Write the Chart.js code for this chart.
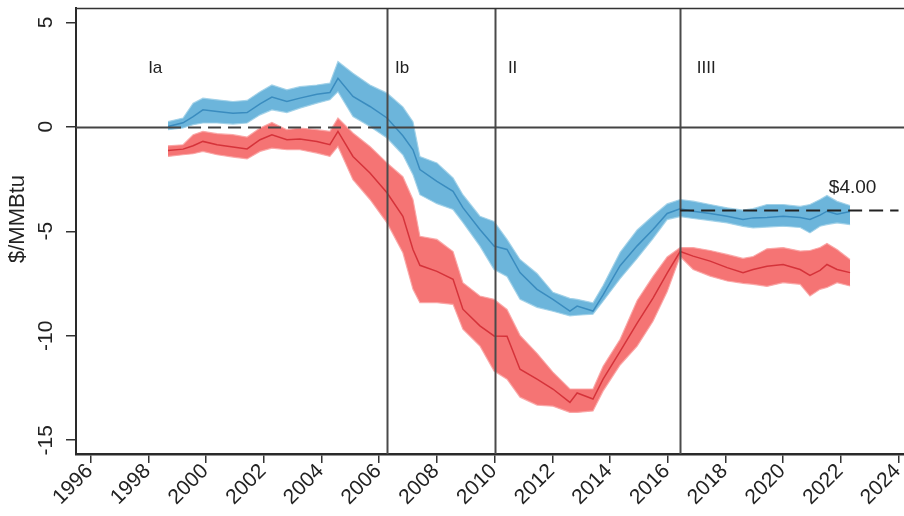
<!DOCTYPE html>
<html>
<head>
<meta charset="utf-8">
<script src="https://cdn.jsdelivr.net/npm/chart.js@4.4.1/dist/chart.umd.min.js"></script>
<style>
  html, body { margin: 0; padding: 0; background: #ffffff; }
  canvas { display: block; }
</style>
</head>
<body>
<canvas id="chart" width="904" height="516"></canvas>
<script>
// Sample dates (decimal years) shared by every series
const years = [1998.68, 1999.20, 1999.55, 1999.89, 2000.38, 2000.93, 2001.42, 2001.87, 2002.28, 2002.80,
  2003.25, 2003.84, 2004.29, 2004.57, 2005.09, 2005.68, 2006.27, 2006.82, 2007.17, 2007.41,
  2008.00, 2008.56, 2008.90, 2009.49, 2009.98, 2010.43, 2010.88, 2011.47, 2012.02, 2012.61,
  2012.86, 2013.41, 2013.76, 2014.35, 2014.94, 2015.49, 2015.98, 2016.43, 2016.88, 2017.47,
  2018.06, 2018.61, 2018.96, 2019.44, 2020.00, 2020.59, 2020.93, 2021.28, 2021.52, 2021.87, 2022.32];

// Blue series: point estimate and confidence band ($/MMBtu)
const blueMid = [0.01, 0.19, 0.49, 0.81, 0.73, 0.65, 0.68, 1.10, 1.42, 1.21,
  1.37, 1.56, 1.64, 2.32, 1.45, 0.97, 0.42, -0.43, -1.10, -2.05,
  -2.61, -3.09, -3.87, -4.92, -5.71, -5.87, -6.98, -7.78, -8.26, -8.82,
  -8.58, -8.82, -8.05, -6.65, -5.70, -4.92, -4.15, -3.92, -4.04, -4.15,
  -4.28, -4.44, -4.36, -4.34, -4.28, -4.34, -4.44, -4.23, -4.04, -4.18, -4.06];
const blueHi = [0.25, 0.42, 1.13, 1.37, 1.29, 1.21, 1.26, 1.68, 2.00, 1.77,
  1.92, 2.00, 2.09, 3.12, 2.56, 2.00, 1.61, 0.95, 0.24, -1.42,
  -1.73, -2.45, -3.25, -4.28, -4.53, -5.39, -6.35, -7.02, -7.92, -8.21,
  -8.26, -8.42, -7.60, -6.01, -4.94, -4.26, -3.69, -3.48, -3.56, -3.72,
  -3.88, -3.99, -3.92, -3.72, -3.72, -3.81, -3.72, -3.48, -3.29, -3.57, -3.77];
const blueLo = [-0.14, -0.06, 0.10, 0.18, 0.18, 0.13, 0.18, 0.57, 0.81, 0.68,
  0.89, 1.13, 1.29, 1.68, 0.49, 0.01, -0.54, -1.34, -2.29, -3.25,
  -3.68, -3.96, -4.58, -5.71, -6.83, -7.16, -8.26, -8.64, -8.83, -9.05,
  -9.02, -8.97, -8.35, -7.27, -6.30, -5.35, -4.44, -4.30, -4.39, -4.49,
  -4.60, -4.77, -4.84, -4.80, -4.76, -4.82, -5.08, -4.76, -4.68, -4.60, -4.68];

// Red series: point estimate and confidence band ($/MMBtu)
const redMid = [-1.13, -1.07, -0.91, -0.70, -0.86, -0.97, -1.06, -0.62, -0.38, -0.62,
  -0.59, -0.70, -0.86, -0.22, -1.42, -2.21, -3.16, -4.28, -5.87, -6.63,
  -6.92, -7.30, -8.73, -9.53, -10.01, -10.02, -11.60, -12.08, -12.55, -13.19,
  -12.74, -13.03, -12.08, -10.75, -9.40, -8.20, -7.00, -5.97, -6.19, -6.43,
  -6.74, -6.98, -6.83, -6.67, -6.59, -6.83, -7.11, -6.87, -6.59, -6.83, -6.98];
const redHi = [-0.91, -0.86, -0.38, -0.22, -0.33, -0.38, -0.49, -0.06, 0.21, -0.14,
  -0.06, -0.14, -0.22, 0.42, -0.30, -0.94, -1.73, -2.39, -3.48, -5.24,
  -5.39, -5.97, -7.46, -8.10, -8.26, -8.74, -9.98, -10.84, -11.74, -12.55,
  -12.55, -12.55, -11.46, -10.17, -8.31, -7.16, -6.23, -5.78, -5.78, -5.92,
  -6.11, -6.30, -6.21, -5.84, -5.78, -5.95, -5.92, -5.78, -5.58, -5.87, -6.35];
const redLo = [-1.42, -1.34, -1.29, -1.18, -1.34, -1.45, -1.54, -1.18, -1.02, -1.10,
  -1.10, -1.26, -1.42, -0.94, -2.53, -3.48, -4.60, -6.03, -7.78, -8.42,
  -8.42, -8.50, -9.69, -10.49, -11.69, -12.08, -12.94, -13.32, -13.37, -13.67,
  -13.67, -13.60, -12.65, -11.40, -10.50, -9.31, -7.90, -6.21, -6.83, -7.15,
  -7.38, -7.49, -7.54, -7.64, -7.46, -7.54, -8.10, -7.78, -7.69, -7.46, -7.62];

// Axis ticks
const xTicks = [1996, 1998, 2000, 2002, 2004, 2006, 2008, 2010, 2012, 2014, 2016, 2018, 2020, 2022, 2024];
const yTicks = [-15, -10, -5, 0, 5];

// Period boundaries and their labels
const phaseBreaks = [2006.27, 2010.0, 2016.43];
const phaseNames = ['Ia', 'Ib', 'II', 'IIII'];
const phaseNameYears = [1997.99, 2006.55, 2010.46, 2017.01];

// Reference levels: zero line (dashed over period Ia) and the $4.00 target line
const periodIaStart = 1998.68;
const targetLevel = -4;
const targetStart = 2016.43;
const targetEnd = 2024.0;
const targetText = '$4.00';
const yTitle = '$/MMBtu';

const FONT = '"Liberation Sans", Arial, Helvetica, sans-serif';

const toPoints = (vals) => years.map((x, i) => ({ x: x, y: vals[i] }));

const annotations = {
  id: 'annotations',
  afterDatasetsDraw(chart) {
    const { ctx, chartArea: a, scales: { x, y } } = chart;
    ctx.save();
    ctx.beginPath();
    ctx.rect(a.left, a.top, a.right - a.left, a.bottom - a.top);
    ctx.clip();

    // vertical period boundaries
    ctx.strokeStyle = '#4a4a4a';
    ctx.lineWidth = 2;
    phaseBreaks.forEach(v => {
      const px = Math.round(x.getPixelForValue(v)) + 0.5;
      ctx.beginPath();
      ctx.moveTo(px, a.top);
      ctx.lineTo(px, a.bottom);
      ctx.stroke();
    });

    // zero line
    const y0 = Math.round(y.getPixelForValue(0)) + 0.5;
    ctx.strokeStyle = '#444';
    ctx.lineWidth = 2;
    ctx.beginPath();
    ctx.moveTo(a.left, y0);
    ctx.lineTo(x.getPixelForValue(periodIaStart), y0);
    ctx.moveTo(x.getPixelForValue(phaseBreaks[0]), y0);
    ctx.lineTo(a.right, y0);
    ctx.stroke();
    ctx.setLineDash([13, 7]);
    ctx.beginPath();
    ctx.moveTo(x.getPixelForValue(periodIaStart), y0);
    ctx.lineTo(x.getPixelForValue(phaseBreaks[0]), y0);
    ctx.stroke();

    // $4.00 target line
    const yt = Math.round(y.getPixelForValue(targetLevel)) + 0.5;
    ctx.strokeStyle = '#222';
    ctx.setLineDash([14, 7]);
    ctx.beginPath();
    ctx.moveTo(x.getPixelForValue(targetStart), yt);
    ctx.lineTo(x.getPixelForValue(targetEnd), yt);
    ctx.stroke();
    ctx.setLineDash([]);
    ctx.restore();
  },
  afterDraw(chart) {
    const { ctx, chartArea: a, scales: { x, y } } = chart;
    ctx.save();

    // frame top edge
    ctx.strokeStyle = '#333';
    ctx.lineWidth = 1.5;
    ctx.beginPath();
    ctx.moveTo(a.left, a.top + 0.5);
    ctx.lineTo(a.right, a.top + 0.5);
    ctx.stroke();

    ctx.fillStyle = '#222';

    // x tick labels, rotated 45 degrees
    ctx.font = '21px ' + FONT;
    xTicks.forEach(v => {
      const px = x.getPixelForValue(v);
      ctx.save();
      ctx.translate(px - 1, 468);
      ctx.rotate(-Math.PI / 4);
      ctx.textAlign = 'right';
      ctx.textBaseline = 'middle';
      ctx.fillText(String(v), 0, 0);
      ctx.restore();
    });

    // y tick labels, vertical
    yTicks.forEach(v => {
      const py = y.getPixelForValue(v);
      ctx.save();
      ctx.translate(46, py);
      ctx.rotate(-Math.PI / 2);
      ctx.textAlign = 'center';
      ctx.textBaseline = 'middle';
      ctx.fillText(String(v), 0, 0);
      ctx.restore();
    });

    // y axis title
    ctx.save();
    ctx.font = '22px ' + FONT;
    ctx.translate(18, 219);
    ctx.rotate(-Math.PI / 2);
    ctx.textAlign = 'center';
    ctx.textBaseline = 'middle';
    ctx.fillText(yTitle, 0, 0);
    ctx.restore();

    // period names
    ctx.font = '17px ' + FONT;
    ctx.textAlign = 'left';
    ctx.textBaseline = 'alphabetic';
    const yName = y.getPixelForValue(2.56);
    phaseNames.forEach((t, i) => {
      ctx.fillText(t, x.getPixelForValue(phaseNameYears[i]), yName);
    });

    // target label
    ctx.font = '19px ' + FONT;
    ctx.textAlign = 'center';
    ctx.fillText(targetText, x.getPixelForValue(2022.41), y.getPixelForValue(-3.15));

    ctx.restore();
  }
};

new Chart(document.getElementById('chart'), {
  type: 'line',
  data: {
    datasets: [
      { label: 'Blue estimate', data: toPoints(blueMid), borderColor: '#3a8cbf', borderWidth: 1.5,
        pointRadius: 0, fill: false, order: 0 },
      { label: 'Red estimate', data: toPoints(redMid), borderColor: '#d5333a', borderWidth: 1.5,
        pointRadius: 0, fill: false, order: 0 },
      { label: 'Blue lower bound', data: toPoints(blueLo), borderColor: 'rgba(160,208,232,0.9)', borderWidth: 1.2,
        pointRadius: 0, fill: false, order: 1 },
      { label: 'Blue upper bound', data: toPoints(blueHi), borderColor: 'rgba(160,208,232,0.9)', borderWidth: 1.2,
        pointRadius: 0, fill: '-1', backgroundColor: '#6cb5db', order: 1 },
      { label: 'Red lower bound', data: toPoints(redLo), borderColor: 'rgba(250,165,165,0.9)', borderWidth: 1.2,
        pointRadius: 0, fill: false, order: 1 },
      { label: 'Red upper bound', data: toPoints(redHi), borderColor: 'rgba(250,165,165,0.9)', borderWidth: 1.2,
        pointRadius: 0, fill: '-1', backgroundColor: '#f57474', order: 1 }
    ]
  },
  options: {
    responsive: false,
    animation: false,
    devicePixelRatio: 1,
    layout: { padding: { top: 8, right: 0, bottom: 0, left: 0 } },
    elements: { line: { tension: 0 } },
    plugins: { legend: { display: false }, tooltip: { enabled: false } },
    scales: {
      x: {
        type: 'linear',
        min: 1995.49,
        max: 2024.19,
        afterBuildTicks: (s) => { s.ticks = xTicks.map(v => ({ value: v })); },
        afterFit: (s) => { s.height = 62; s.paddingLeft = 0; s.paddingRight = 0; },
        ticks: { display: false },
        grid: { display: true, drawOnChartArea: false, drawTicks: true, tickLength: 9, color: '#333', lineWidth: 1.5 },
        border: { display: true, color: '#2a2a2a', width: 2.5 }
      },
      y: {
        type: 'linear',
        min: -15.66,
        max: 5.684,
        afterBuildTicks: (s) => { s.ticks = yTicks.map(v => ({ value: v })); },
        afterFit: (s) => { s.width = 76; s.paddingTop = 0; s.paddingBottom = 0; },
        ticks: { display: false },
        grid: { display: true, drawOnChartArea: false, drawTicks: true, tickLength: 10, color: '#333', lineWidth: 1.5 },
        border: { display: true, color: '#2a2a2a', width: 2 }
      }
    }
  },
  plugins: [annotations]
});
</script>
</body>
</html>
